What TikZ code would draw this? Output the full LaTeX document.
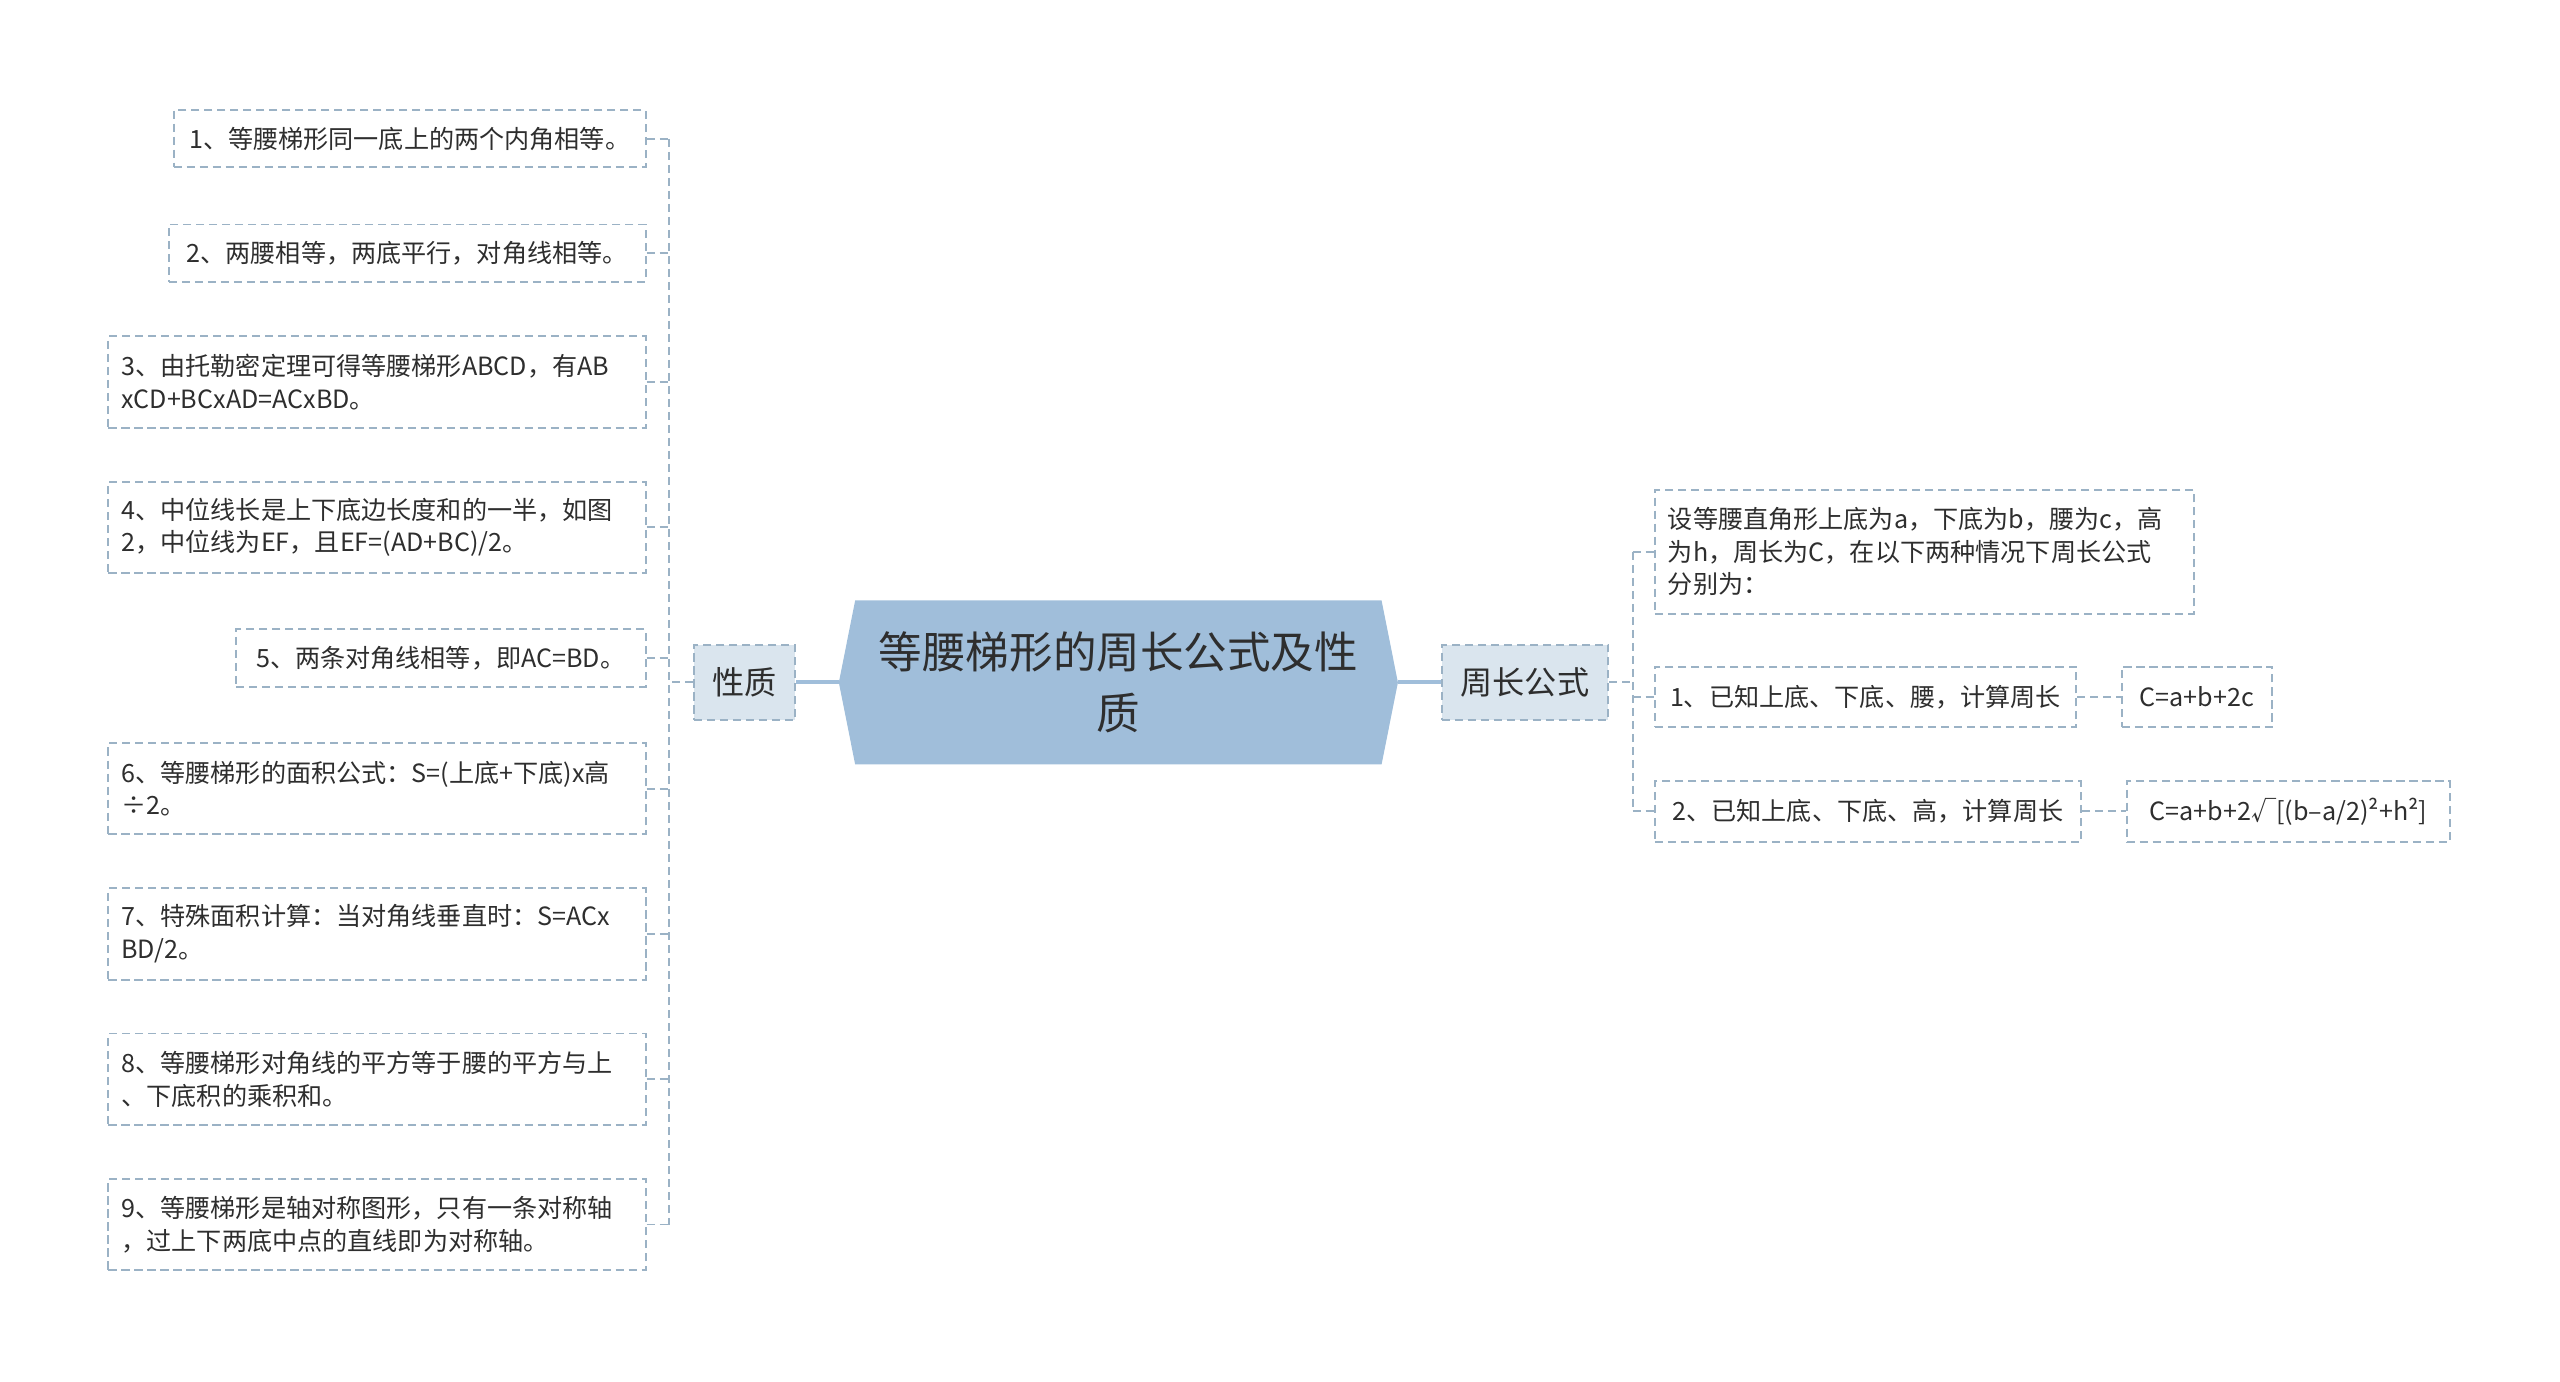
\documentclass[tikz,border=0pt]{standalone}
\usepackage{fontspec}
\setmainfont{Noto Sans CJK SC}
\usepackage{tikz}
\usetikzlibrary{calc}
\usetikzlibrary{backgrounds}

\newcommand{\pxl}{0.032653cm}

\begin{document}
\begin{tikzpicture}[x=0.032653cm, y=-0.032653cm]
        \definecolor{zhuse}{HTML}{A0BEDA}
        \definecolor{qianse}{HTML}{DAE5EE}
        \definecolor{xianse}{HTML}{9BB2C5}
        \definecolor{zise}{HTML}{2E2E2E}
        \tikzset{
            xian/.style={xianse, line width=1.1pt, dash pattern=on 4.6pt off 2.8pt},
            cu/.style={zhuse, line width=2.3pt},
            tiao/.style={draw=xianse, line width=1.1pt, dash pattern=on 4.6pt off 2.8pt,
                align=left, text=zise, inner xsep=0pt,
                font=\fontsize{14.3pt}{18.5pt}\selectfont},
            duo/.style={tiao, inner xsep={8*\pxl}, text width={313*\pxl}},
            fen/.style={tiao, fill=qianse, align=center,
                minimum height={46*\pxl}, font=\fontsize{18.3pt}{22pt}\selectfont}
        }
        \useasboundingbox (0,0) rectangle (1568,846);

        % Draw the central topic
        \node[align=center, text=zise, minimum width={342*\pxl}, minimum height={100*\pxl},
            font=\fontsize{24.8pt}{35pt}\selectfont] (zhuti) at (685,418)
            {等腰梯形的周长公式及性\\质};
        \begin{scope}[on background layer]
            \fill[zhuse] ($(zhuti.north west)+(10,0)$) -- ($(zhuti.north east)+(-10,0)$)
                -- (zhuti.east) -- ($(zhuti.south east)+(-10,0)$)
                -- ($(zhuti.south west)+(10,0)$) -- (zhuti.west) -- cycle;
        \end{scope}

        % Draw the two branches
        \node[fen, minimum width={62*\pxl}] (xingzhi) at (456,418) {性质};
        \node[fen, minimum width={102*\pxl}] (zhouchang) at (934,418) {周长公式};
        \draw[cu] (zhuti.west) -- (xingzhi.east);
        \draw[cu] (zhuti.east) -- (zhouchang.west);

        % Left side: the properties
        \node[tiao, anchor=east, minimum width={289*\pxl}, minimum height={35*\pxl}] (l1) at (396,85)
            {1、等腰梯形同一底上的两个内角相等。};
        \node[tiao, anchor=east, minimum width={292*\pxl}, minimum height={35*\pxl}] (l2) at (396,155)
            {2、两腰相等，两底平行，对角线相等。};
        \node[duo, anchor=east, minimum height={56*\pxl}] (l3) at (396,234)
            {3、由托勒密定理可得等腰梯形ABCD，有AB\\xCD+BCxAD=ACxBD。};
        \node[duo, anchor=east, minimum height={56*\pxl}] (l4) at (396,323)
            {4、中位线长是上下底边长度和的一半，如图\\2，中位线为EF，且EF=(AD+BC)/2。};
        \node[tiao, anchor=east, minimum width={251*\pxl}, minimum height={35*\pxl}] (l5) at (396,403)
            {5、两条对角线相等，即AC=BD。};
        \node[duo, anchor=east, minimum height={56*\pxl}] (l6) at (396,483)
            {6、等腰梯形的面积公式：S=(上底+下底)x高\\÷2。};
        \node[duo, anchor=east, minimum height={56*\pxl}] (l7) at (396,572)
            {7、特殊面积计算：当对角线垂直时：S=ACx\\BD/2。};
        \node[duo, anchor=east, minimum height={56*\pxl}] (l8) at (396,661)
            {8、等腰梯形对角线的平方等于腰的平方与上\\、下底积的乘积和。};
        \node[duo, anchor=east, minimum height={56*\pxl}] (l9) at (396,750)
            {9、等腰梯形是轴对称图形，只有一条对称轴\\，过上下两底中点的直线即为对称轴。};

        % Left connectors
        \coordinate (lt) at (410,418);
        \draw[xian] (xingzhi.west) -- (lt);
        \draw[xian] (lt |- l1.east) -- (lt |- l9.east);
        \foreach \i in {1,...,9}
            \draw[xian] (l\i.east) -- (lt |- l\i.east);

        % Right side: the perimeter
        \node[duo, anchor=west, text width={314*\pxl}, minimum height={76*\pxl}] (r0) at (1013,338)
            {设等腰直角形上底为a，下底为b，腰为c，高\\为h，周长为C，在以下两种情况下周长公式\\分别为：};
        \node[tiao, anchor=west, minimum width={258*\pxl}, minimum height={37*\pxl}] (r1) at (1013,427)
            {1、已知上底、下底、腰，计算周长};
        \node[tiao, anchor=west, minimum width={261*\pxl}, minimum height={37*\pxl}] (r2) at (1013,497)
            {2、已知上底、下底、高，计算周长};
        \node[tiao, anchor=west, minimum width={92*\pxl}, minimum height={37*\pxl}] (f1) at (1299,427)
            {C=a+b+2c};
        \node[tiao, anchor=west, minimum width={198*\pxl}, minimum height={37*\pxl}] (f2) at (1302,497)
            {C=a+b+2√[(b–a/2)²+h²]};

        % Right connectors
        \coordinate (rt) at (1000,418);
        \draw[xian] (zhouchang.east) -- (rt);
        \draw[xian] (rt |- r0.west) -- (rt |- r2.west);
        \foreach \i in {0,1,2}
            \draw[xian] (rt |- r\i.west) -- (r\i.west);
        \draw[xian] (r1.east) -- (f1.west);
        \draw[xian] (r2.east) -- (f2.west);
\end{tikzpicture}
\end{document}
